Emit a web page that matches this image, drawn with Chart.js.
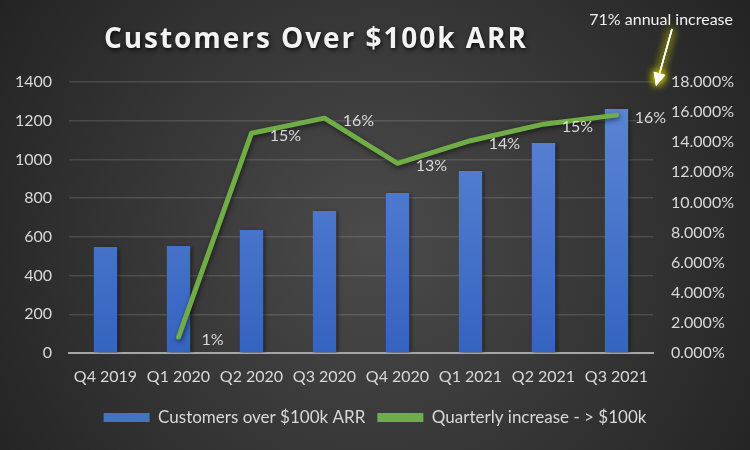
<!DOCTYPE html>
<html>
<head>
<meta charset="utf-8">
<script src="https://cdn.jsdelivr.net/npm/chart.js@4/dist/chart.umd.min.js"></script>
<style>
    html, body { margin: 0; padding: 0; background: #2b2b2b; }
</style>
</head>
<body>
<canvas id="arrChart" width="750" height="450"></canvas>
<script>
'use strict';

// Dữ liệu
var quarters = ['Q4 2019', 'Q1 2020', 'Q2 2020', 'Q3 2020', 'Q4 2020', 'Q1 2021', 'Q2 2021', 'Q3 2021'];
var customers = [548, 553, 635, 733, 826, 940, 1085, 1260];
var quarterlyIncrease = [null, 1.06, 14.6, 15.6, 12.6, 14.1, 15.2, 15.8];
var customerAxis = { min: 0, max: 1400, step: 200 };
var percentAxis = { min: 0, max: 18, step: 2 };

var chartTitle = 'Customers Over $100k ARR';
var noteText = '71% annual increase';

var FONT = 'Lato, "Open Sans", sans-serif';
var TEXT = '#d9d9d9';

// Nền gradient tối
var backgroundPlugin = {
    id: 'darkBackground',
    beforeDraw: function (chart) {
        var ctx = chart.ctx;
        var g = ctx.createRadialGradient(375, 240, 10, 375, 240, 460);
        g.addColorStop(0, '#4a4a4a');
        g.addColorStop(1, '#222222');
        ctx.save();
        ctx.fillStyle = g;
        ctx.fillRect(0, 0, chart.width, chart.height);
        ctx.restore();
    }
};

// Đổ bóng cho cột và đường
var shadowPlugin = {
    id: 'shadows',
    beforeDatasetDraw: function (chart, args) {
        var ctx = chart.ctx;
        ctx.save();
        if (args.index === 0) {
            ctx.shadowColor = 'rgba(0,0,0,0.45)';
            ctx.shadowBlur = 4;
            ctx.shadowOffsetX = 2;
            ctx.shadowOffsetY = 1;
        } else {
            ctx.shadowColor = 'rgba(0,0,0,0.55)';
            ctx.shadowBlur = 5;
            ctx.shadowOffsetX = 1;
            ctx.shadowOffsetY = 2;
        }
    },
    afterDatasetDraw: function (chart) {
        chart.ctx.restore();
    }
};

// Nhãn phần trăm cạnh từng điểm
var pointLabelPlugin = {
    id: 'pointLabels',
    afterDatasetsDraw: function (chart) {
        var ctx = chart.ctx;
        var meta = chart.getDatasetMeta(1);
        ctx.save();
        ctx.font = '16px ' + FONT;
        ctx.fillStyle = TEXT;
        ctx.textAlign = 'center';
        ctx.textBaseline = 'middle';
        meta.data.forEach(function (pt, i) {
            var v = quarterlyIncrease[i];
            if (v === null) return;
            ctx.fillText(Math.round(v) + '%', pt.x + 34, pt.y + 3);
        });
        ctx.restore();
    }
};

// Tiêu đề và chú thích mũi tên
var titlePlugin = {
    id: 'titleAndNote',
    afterDraw: function (chart) {
        var ctx = chart.ctx;
        var area = chart.chartArea;
        ctx.save();

        // tiêu đề
        ctx.font = 'bold 28px "Open Sans", sans-serif';
        var w = ctx.measureText(chartTitle).width;
        var spacing = Math.max(0, (422 - w) / (chartTitle.length - 1));
        ctx.letterSpacing = spacing.toFixed(2) + 'px';
        ctx.fillStyle = '#f2f2f2';
        ctx.textAlign = 'left';
        ctx.textBaseline = 'alphabetic';
        ctx.shadowColor = 'rgba(0,0,0,0.8)';
        ctx.shadowBlur = 4;
        ctx.shadowOffsetX = 1;
        ctx.shadowOffsetY = 2;
        ctx.fillText(chartTitle, 104, 48);
        ctx.restore();

        // chú thích
        ctx.save();
        ctx.font = '16px ' + FONT;
        ctx.fillStyle = '#f2f2f2';
        ctx.textAlign = 'right';
        ctx.textBaseline = 'middle';
        ctx.fillText(noteText, chart.width - 17, 20);

        var tipX = area.right + 3;
        var tipY = chart.scales.y1.getPixelForValue(percentAxis.max) + 4;
        var startX = tipX + 16, startY = 29;
        var dx = tipX - startX, dy = tipY - startY;
        var len = Math.sqrt(dx * dx + dy * dy);
        var ux = dx / len, uy = dy / len;
        var bx = tipX - ux * 13, by = tipY - uy * 13;

        for (var k = 0; k < 3; k++) {
            ctx.shadowColor = 'rgba(215,215,0,0.9)';
            ctx.shadowBlur = 8;
            ctx.strokeStyle = '#ffffff';
            ctx.fillStyle = '#ffffff';
            ctx.lineWidth = 1.5;
            ctx.beginPath();
            ctx.moveTo(startX, startY);
            ctx.lineTo(bx, by);
            ctx.stroke();
            ctx.beginPath();
            ctx.moveTo(tipX, tipY);
            ctx.lineTo(bx - uy * 6, by + ux * 6);
            ctx.lineTo(bx + uy * 6, by - ux * 6);
            ctx.closePath();
            ctx.fill();
        }
        ctx.restore();
    }
};

var ctx = document.getElementById('arrChart').getContext('2d');

var arrChart = new Chart(ctx, {
    data: {
        labels: quarters,
        datasets: [{
            type: 'bar',
            label: 'Customers over $100k ARR',
            data: customers,
            yAxisID: 'y',
            order: 2,
            backgroundColor: function (c) {
                var area = c.chart.chartArea;
                if (!area) return '#4472c4';
                var g = c.chart.ctx.createLinearGradient(0, area.top, 0, area.bottom);
                g.addColorStop(0, '#5e88d6');
                g.addColorStop(1, '#3563c0');
                return g;
            },
            borderWidth: 0,
            categoryPercentage: 1,
            barPercentage: 0.32
        }, {
            type: 'line',
            label: 'Quarterly increase - > $100k',
            data: quarterlyIncrease,
            yAxisID: 'y1',
            order: 1,
            borderColor: '#70ad47',
            backgroundColor: '#70ad47',
            borderWidth: 5,
            borderCapStyle: 'round',
            borderJoinStyle: 'round',
            pointRadius: 0,
            tension: 0,
            spanGaps: false
        }]
    },
    options: {
        responsive: false,
        animation: false,
        layout: { padding: { top: 82, left: 0, right: 0, bottom: 14 } },
        plugins: {
            title: { display: false },
            tooltip: { enabled: false },
            legend: {
                position: 'bottom',
                labels: {
                    color: TEXT,
                    font: { family: FONT, size: 17 },
                    boxWidth: 46,
                    boxHeight: 9,
                    padding: 12,
                    sort: function (a, b) { return a.datasetIndex - b.datasetIndex; },
                    generateLabels: function (chart) {
                        return chart.data.datasets.map(function (ds, i) {
                            return {
                                text: ds.label,
                                fillStyle: i === 0 ? '#4472c4' : '#70ad47',
                                strokeStyle: 'rgba(0,0,0,0)',
                                lineWidth: 0,
                                fontColor: TEXT,
                                hidden: false,
                                datasetIndex: i
                            };
                        });
                    }
                }
            }
        },
        scales: {
            x: {
                grid: { display: false, drawTicks: false },
                border: { display: true, color: '#a6a6a6', width: 2 },
                ticks: { color: TEXT, font: { family: FONT, size: 16 }, padding: 14, maxRotation: 0 },
                afterFit: function (scale) { scale.height = 44; }
            },
            y: {
                position: 'left',
                min: customerAxis.min,
                max: customerAxis.max,
                grid: { color: 'rgba(255,255,255,0.13)', lineWidth: 1.5, drawTicks: false },
                border: { display: false },
                ticks: {
                    stepSize: customerAxis.step,
                    color: TEXT,
                    font: { family: FONT, size: 16 },
                    padding: 17,
                    callback: function (value) { return String(value); }
                },
                afterFit: function (scale) { scale.width = 69; }
            },
            y1: {
                position: 'right',
                min: percentAxis.min,
                max: percentAxis.max,
                grid: { display: false, drawTicks: false },
                border: { display: false },
                ticks: {
                    stepSize: percentAxis.step,
                    color: TEXT,
                    font: { family: FONT, size: 16 },
                    padding: 18,
                    callback: function (value) { return value.toFixed(3) + '%'; }
                },
                afterFit: function (scale) { scale.width = 97; }
            }
        }
    },
    plugins: [backgroundPlugin, shadowPlugin, pointLabelPlugin, titlePlugin]
});
</script>
</body>
</html>
